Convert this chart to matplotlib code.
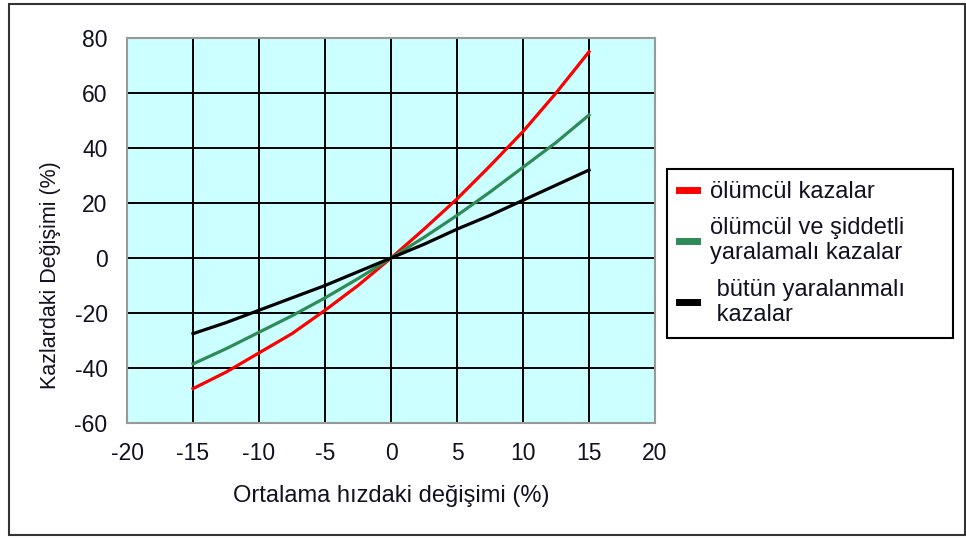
import matplotlib
matplotlib.use('Agg')
import matplotlib.pyplot as plt
from matplotlib.patches import Rectangle

plt.rcParams['font.family'] = ['Liberation Sans', 'DejaVu Sans']

# hız değişimi (%) ve kazalardaki değişim (%)
hiz = [-15, -12.5, -10, -7.5, -5, -2.5, 0, 2.5, 5, 7.5, 10, 12.5, 15]
olumcul = [-47.5, -41.5, -34.5, -27.5, -19, -10, 0, 10.5, 21.5, 33.5, 46, 60, 75]
siddetli = [-38.5, -33, -27, -21, -14.5, -7.5, 0, 7.5, 15.5, 24, 33, 42, 52]
butun = [-27.5, -23.5, -19, -14.5, -10, -5, 0, 5, 10.5, 15.5, 21, 26.5, 32]

etiketler = ['ölümcül kazalar',
             'ölümcül ve şiddetli\nyaralamalı kazalar',
             ' bütün yaralanmalı\n kazalar']
renkler = ['#ff0000', '#2e8b57', '#000000']
xticks = list(range(-20, 21, 5))
yticks = list(range(-60, 81, 20))

fig = plt.figure(figsize=(9.66, 5.39), dpi=100)
ax = fig.add_axes([0.1315, 0.2152, 0.5466, 0.7143])
ax.set_facecolor('#ccffff')

for y, c, lab in zip([olumcul, siddetli, butun], renkler, etiketler):
    ax.plot(hiz, y, color=c, lw=2.3, label=lab, zorder=3)

ax.set_xlim(-20, 20)
ax.set_ylim(-60, 80)
ax.set_xticks(xticks)
ax.set_yticks(yticks)
ax.set_xticklabels([str(t) for t in xticks])
ax.set_yticklabels([str(t) for t in yticks])
ax.grid(True, color='black', lw=1.4, zorder=1)
ax.set_axisbelow(True)
ax.tick_params(length=0, labelsize=16.5, labelcolor='#111122')
ax.tick_params(axis='y', pad=14)
ax.tick_params(axis='x', pad=14)
for s in ax.spines.values():
    s.set_color('#999999')
    s.set_linewidth(1.5)

ax.set_xlabel('Ortalama hızdaki değişimi (%)', fontsize=17, color='#111122', labelpad=14)
ax.set_ylabel('Kazlardaki Değişimi (%)', fontsize=15.5, color='#111122')
ax.yaxis.set_label_coords(-0.125, 0.384)

leg = ax.legend(loc='upper left', bbox_to_anchor=(0.6905, 0.3865, 0.296, 0.3),
                bbox_transform=fig.transFigure, mode='expand', fontsize=17,
                frameon=True, fancybox=False, edgecolor='black', framealpha=1,
                handlelength=0.76, handletextpad=0.55, labelspacing=0.6,
                borderpad=0.5, borderaxespad=0)
leg.get_frame().set_linewidth(1.5)
for h in leg.legend_handles:
    h.set_linewidth(5)
for t in leg.get_texts():
    t.set_color('#111122')

# dış çerçeve
fig.patches.append(Rectangle((0.009, 0.007), 0.99, 0.986, transform=fig.transFigure,
                             fill=False, edgecolor='#333333', lw=1.5))

fig.savefig('out.png', dpi=100)
